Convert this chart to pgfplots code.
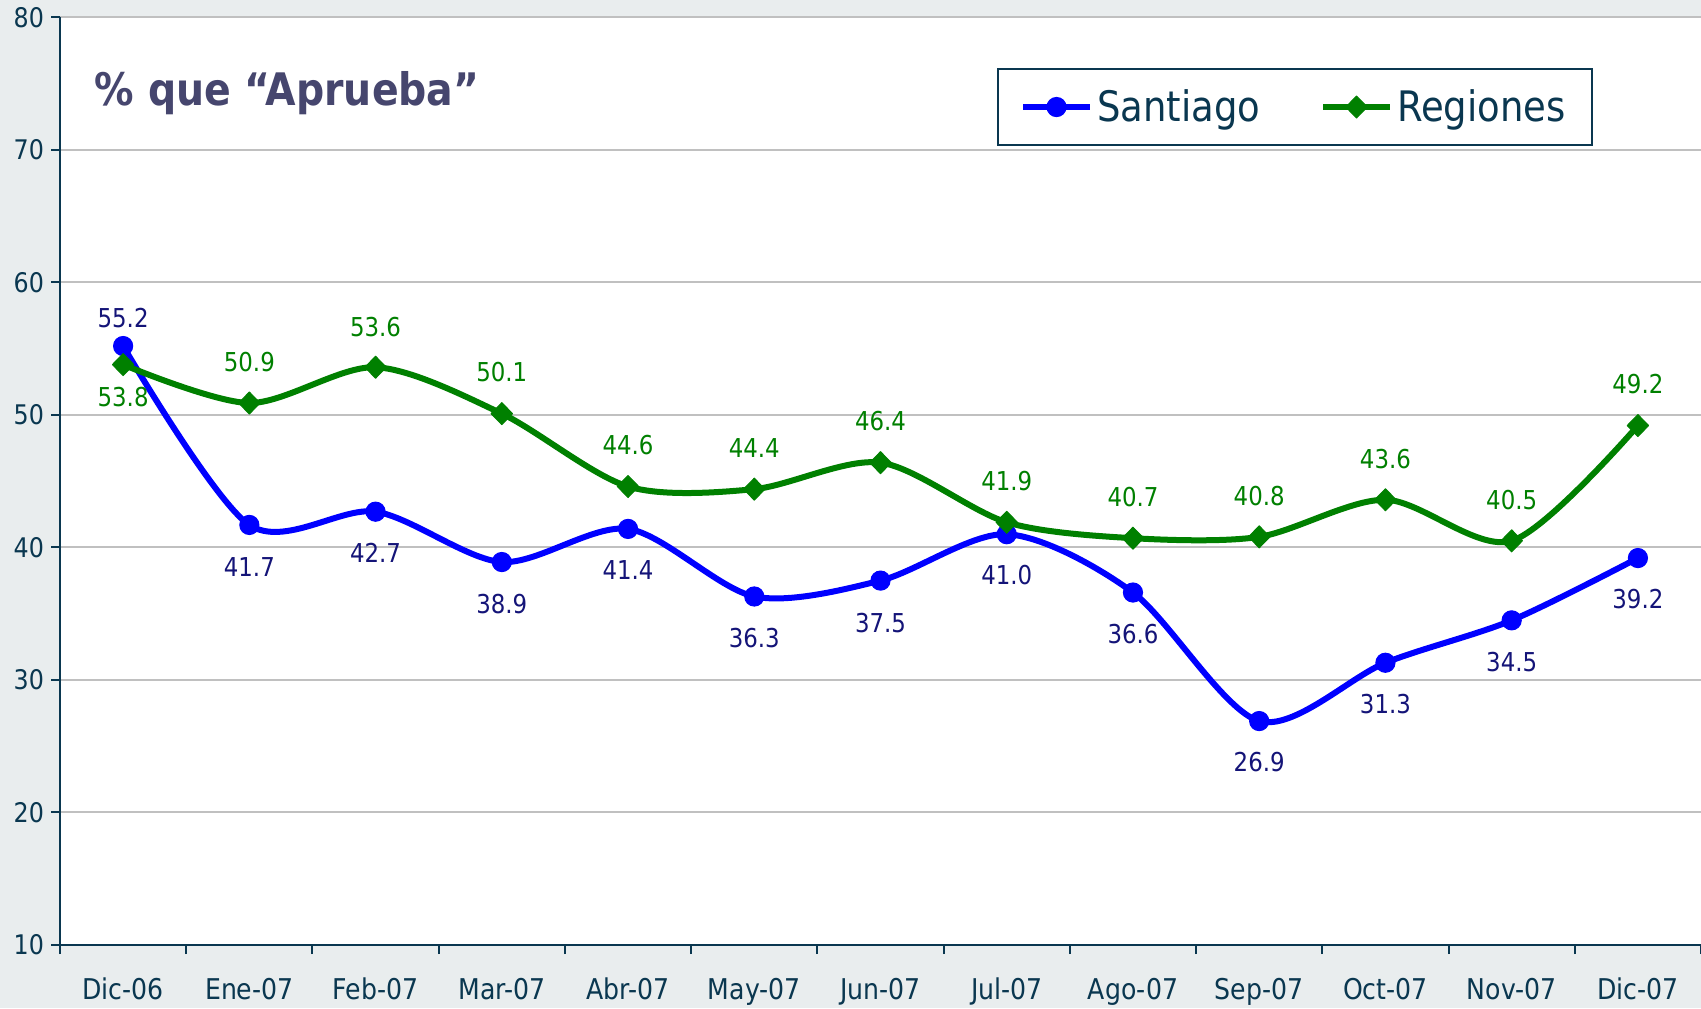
\documentclass[border=0pt]{standalone}
\usepackage{fontspec}
\setmainfont{DejaVu Sans}[FakeStretch=0.88]
\usepackage{pgfplots}
\pgfplotsset{compat=1.18}
\usepackage{pgfplotstable}
\definecolor{bg}{RGB}{233,237,238}
\definecolor{axc}{RGB}{10,55,80}
\definecolor{titc}{RGB}{70,70,110}
\definecolor{sblue}{RGB}{0,0,255}
\definecolor{slab}{RGB}{20,20,120}
\definecolor{rgreen}{RGB}{0,128,0}
\definecolor{gridc}{RGB}{192,192,192}

\pgfplotstableread{
x y dy
0 55.2 14
1 41.7 -21
2 42.7 -20.6
3 38.9 -21
4 41.4 -20.6
5 36.3 -21
6 37.5 -21
7 41.0 -20.6
8 36.6 -20.6
9 26.9 -20.6
10 31.3 -20.6
11 34.5 -20.6
12 39.2 -20.6
}\santiago

\pgfplotstableread{
x y dy
0 53.8 -16
1 50.9 20.6
2 53.6 20
3 50.1 20.6
4 44.6 20.6
5 44.4 20.6
6 46.4 20.6
7 41.9 20.6
8 40.7 20.6
9 40.8 20.6
10 43.6 20.6
11 40.5 20.6
12 49.2 20.6
}\regiones

\begin{document}
\begin{tikzpicture}
\useasboundingbox (0,0) rectangle (850.5pt,504pt);
\fill[bg] (0,0) rectangle (850.5pt,504pt);
\begin{axis}[
  at={(30pt,31.5pt)}, anchor=south west,
  width=820.5pt, height=463.8pt, scale only axis,
  xmin=-0.5, xmax=12.5, ymin=10, ymax=80,
  ytick={10,20,...,80},
  xtick={-0.5,0.5,...,12.5}, xticklabels={},
  extra x ticks={0,1,...,12},
  extra x tick labels={Dic-06,Ene-07,Feb-07,Mar-07,Abr-07,May-07,Jun-07,Jul-07,Ago-07,Sep-07,Oct-07,Nov-07,Dic-07},
  extra x tick style={major tick length=0pt, xticklabel style={yshift=-13pt}},
  axis background/.style={fill=white},
  axis lines*=left,
  axis line style={axc, line width=1pt},
  ymajorgrids, major grid style={gridc, line width=1pt},
  tick align=outside,
  major tick length=4.5pt,
  tick style={axc, line width=1pt},
  /pgf/number format/assume math mode=true,
  yticklabel style={font=\fontsize{13.5}{15}\selectfont, text=axc},
  xticklabel style={font=\fontsize{14.3}{16}\selectfont, text=axc},
  legend style={at={(0.571,0.9455)}, anchor=north west, draw=axc, line width=1pt,
    fill=white, font=\fontsize{21}{25}\selectfont, text=axc,
    inner xsep=11pt, inner ysep=8.3pt,
    /tikz/every even column/.append style={column sep=28pt}},
  legend columns=2,
  legend image code/.code={\draw[mark repeat=2,mark phase=2,#1] plot coordinates {(0pt,0pt)(16.75pt,0pt)(33.5pt,0pt)};},
  nodes near coords={\pgfmathprintnumber[fixed,fixed zerofill,precision=1]{\pgfplotspointmeta}},
  point meta=y,
]
\addplot[sblue, line width=3pt, line join=round, smooth, tension=0.5,
  mark=*, mark size=4.8pt, mark options={solid, line width=0.5pt},
  visualization depends on={\thisrow{dy} \as \dy},
  nodes near coords style={anchor=center, yshift=\dy*1pt, font=\fontsize{13}{15}\selectfont, text=slab}]
  table[x=x,y=y]{\santiago};
\addplot[rgreen, line width=3pt, line join=round, smooth, tension=0.5,
  mark=diamond*, mark size=5.5pt, mark options={solid, line width=0.5pt, xscale=1.3},
  visualization depends on={\thisrow{dy} \as \dy},
  nodes near coords style={anchor=center, yshift=\dy*1pt, font=\fontsize{13}{15}\selectfont, text=rgreen}]
  table[x=x,y=y]{\regiones};
\legend{Santiago,Regiones}
\node[anchor=west, font=\bfseries\fontsize{22.4}{26}\selectfont, text=titc] at (rel axis cs:0.0170,0.9182) {\% que “Aprueba”};
\end{axis}
\end{tikzpicture}
\end{document}
